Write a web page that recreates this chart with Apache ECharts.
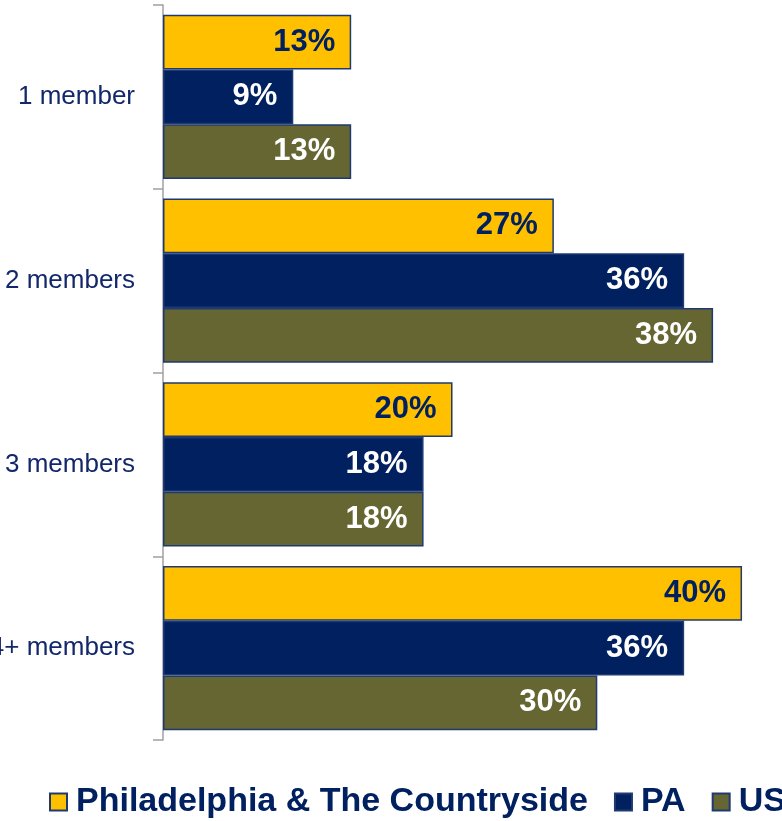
<!DOCTYPE html>
<html>
<head>
<meta charset="utf-8">
<title>Household size</title>
<script src="https://cdn.jsdelivr.net/npm/echarts@6/dist/echarts.min.js"></script>
<style>
  html, body { margin: 0; padding: 0; background: #ffffff; }
  #chart { width: 782px; height: 821px; }
</style>
</head>
<body>
<div id="chart"></div>
<script>
// Household size categories (top to bottom)
const categories = ['1 member', '2 members', '3 members', '4+ members'];

// Share of households, percent
const phillyCountryside = [13, 27, 20, 40];
const paValues = [9, 36, 18, 36];
const usValues = [13, 38, 18, 30];

const seriesNames = ['Philadelphia & The Countryside', 'PA', 'US'];

const NAVY = '#002060';
const YELLOW = '#FFC000';
const OLIVE = '#666633';
const EDGE = '#1F3A70';

function barSeries(name, data, color, labelColor) {
  return {
    name: name,
    type: 'bar',
    data: data,
    barGap: '0%',
    barCategoryGap: '10.7%',
    itemStyle: { color: color, borderColor: EDGE, borderWidth: 1.5 },
    label: {
      show: true,
      position: 'insideRight',
      distance: 16,
      formatter: '{c}%',
      color: labelColor,
      fontFamily: 'Liberation Sans, Arial, sans-serif',
      fontWeight: 'bold',
      fontSize: 31
    },
    emphasis: { disabled: true },
    animation: false
  };
}

const chart = echarts.init(document.getElementById('chart'), null, { renderer: 'canvas' });
chart.setOption({
  backgroundColor: '#ffffff',
  animation: false,
  grid: {
    left: 163, right: 11, top: 5, bottom: 81,
    containLabel: false,
    outerBoundsMode: 'none'
  },
  xAxis: {
    type: 'value',
    min: 0,
    max: 42,
    show: false
  },
  yAxis: {
    type: 'category',
    data: categories,
    inverse: true,
    axisLine: { show: true, lineStyle: { color: '#A0A0A0', width: 1.5 } },
    axisTick: { show: true, length: 10, lineStyle: { color: '#A0A0A0', width: 1.5 } },
    axisLabel: {
      margin: 28,
      color: '#12286A',
      fontFamily: 'Liberation Sans Narrow, Arial Narrow, Liberation Sans, Arial, sans-serif',
      fontSize: 26
    },
    splitLine: { show: false }
  },
  legend: {
    data: seriesNames,
    left: 49,
    top: 785,
    width: 900,
    padding: 0,
    itemWidth: 17,
    itemHeight: 17,
    itemGap: 26,
    icon: 'rect',
    textStyle: {
      color: NAVY,
      fontFamily: 'Liberation Sans, Arial, sans-serif',
      fontWeight: 'bold',
      fontSize: 34,
      padding: [0, 0, 0, 4]
    },
    selectedMode: false
  },
  series: [
    barSeries(seriesNames[0], phillyCountryside, YELLOW, NAVY),
    barSeries(seriesNames[1], paValues, NAVY, '#ffffff'),
    barSeries(seriesNames[2], usValues, OLIVE, '#ffffff')
  ]
});
</script>
</body>
</html>
